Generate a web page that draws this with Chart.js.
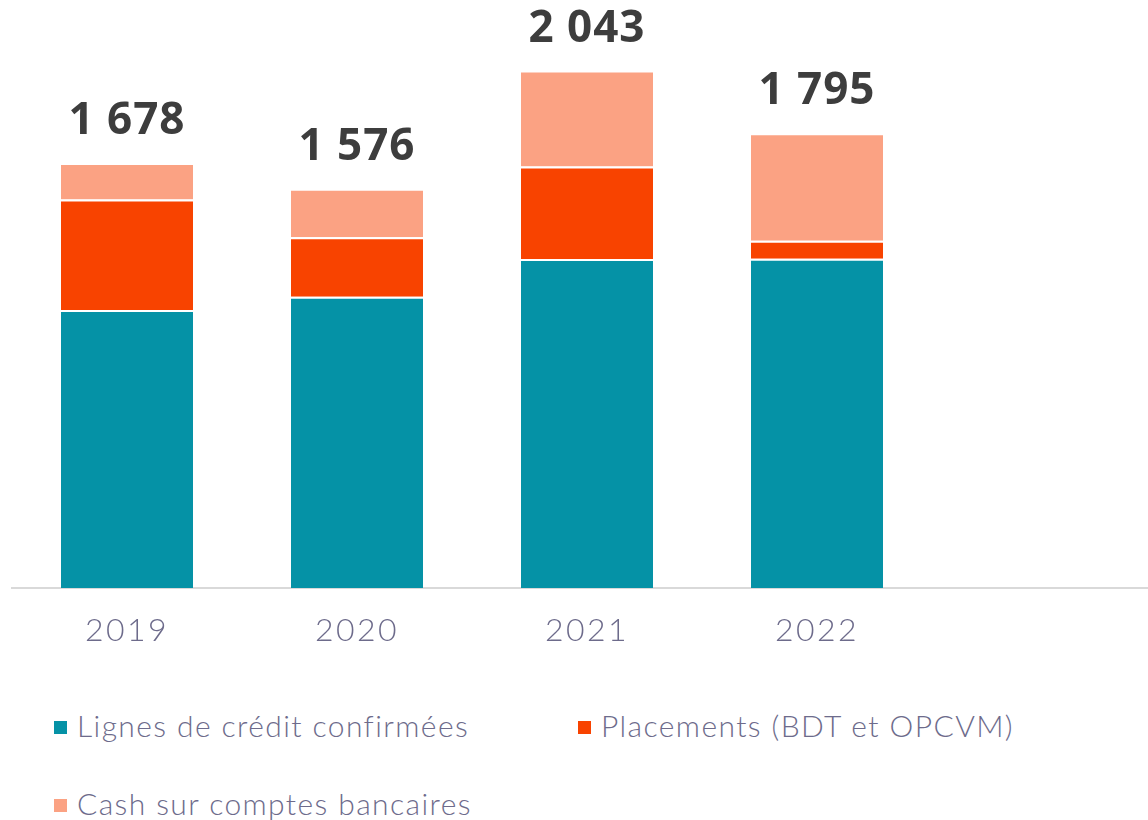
<!DOCTYPE html>
<html>
<head>
<meta charset="utf-8">
<script src="https://cdn.jsdelivr.net/npm/chart.js@4.4.1/dist/chart.umd.min.js"></script>
<style>
  html, body { margin: 0; padding: 0; background: #fff; overflow: hidden; width: 1148px; height: 820px; }
  #wrap { position: absolute; left: 0; top: 0; width: 1148px; height: 660px; overflow: hidden; }
  #box { position: absolute; left: 0; top: 0; width: 1162px; height: 660px; }
  .leg { position: absolute; font-family: "Lato", "Open Sans", sans-serif; font-weight: 300; font-size: 30px; letter-spacing: 1.4px; color: #6d6b8b; white-space: nowrap; line-height: 36px; }
  .leg span.sw { display: inline-block; width: 13px; height: 13px; margin-right: 10px; vertical-align: middle; position: relative; top: -2px; }
</style>
</head>
<body>
<div id="wrap"><div id="box"><canvas id="c"></canvas></div></div>
<div id="legend"></div>
<script>
const categories = ["2019", "2020", "2021", "2022", ""];
const lignesCredit = [1098, 1150, 1299, 1300, null];
const placements   = [436, 235, 365, 71, null];
const cashBancaire = [144, 191, 379, 424, null];
const totals       = [1678, 1576, 2043, 1795, null];
const totalLabels  = ["1 678", "1 576", "2 043", "1 795", ""];
const seriesNames  = ["Lignes de crédit confirmées", "Placements (BDT et OPCVM)", "Cash sur comptes bancaires"];
const seriesColors = ["#0592A6", "#F84300", "#FBA283"];

const spacingPlugin = {
  id: 'spacing',
  beforeDraw(chart) { chart.ctx.letterSpacing = '2.5px'; },
  afterDraw(chart) { chart.ctx.letterSpacing = '0px'; }
};

const totalsPlugin = {
  id: 'totals',
  afterDatasetsDraw(chart) {
    const ctx = chart.ctx;
    const x = chart.scales.x, y = chart.scales.y;
    ctx.save();
    ctx.letterSpacing = '1px';
    ctx.font = 'bold 44px "Open Sans", "Lato", sans-serif';
    ctx.fillStyle = '#3d3d3d';
    ctx.textAlign = 'center';
    ctx.textBaseline = 'alphabetic';
    totals.forEach((t, i) => {
      if (t == null) return;
      ctx.fillText(totalLabels[i], x.getPixelForValue(i), y.getPixelForValue(t) - 29);
    });
    ctx.restore();
  }
};

const mk = (label, data, color) => ({
  label, data, backgroundColor: color, borderColor: '#ffffff',
  borderWidth: {top: 2, left: 0, right: 0, bottom: 0}, borderSkipped: false,
  categoryPercentage: 1, barPercentage: 0.574
});

new Chart(document.getElementById('c'), {
  type: 'bar',
  data: {
    labels: categories,
    datasets: [
      mk(seriesNames[0], lignesCredit, seriesColors[0]),
      mk(seriesNames[1], placements, seriesColors[1]),
      mk(seriesNames[2], cashBancaire, seriesColors[2])
    ]
  },
  options: {
    responsive: true, maintainAspectRatio: false, animation: false,
    layout: { padding: { top: 8, left: 12, right: 0, bottom: 0 } },
    plugins: { legend: { display: false }, tooltip: { enabled: false } },
    scales: {
      x: {
        stacked: true,
        grid: { display: false, drawTicks: false },
        border: { display: true, color: '#d9d9d9', width: 2 },
        ticks: { color: '#6d6b8b', font: { family: '"Lato", "Open Sans", sans-serif', size: 32, weight: 300 }, padding: 23, maxRotation: 0 },
        afterFit: (s) => { s.height = 72; }
      },
      y: {
        stacked: true, display: false, min: 0, max: 2290
      }
    }
  },
  plugins: [spacingPlugin, totalsPlugin]
});

const legPos = [[54, 707], [578, 707], [54, 785]];
const legEl = document.getElementById('legend');
seriesNames.forEach((n, i) => {
  const d = document.createElement('div');
  d.className = 'leg';
  d.style.left = legPos[i][0] + 'px';
  d.style.top = legPos[i][1] + 'px';
  d.innerHTML = '<span class="sw" style="background:' + seriesColors[i] + '"></span>' + n;
  legEl.appendChild(d);
});
</script>
</body>
</html>
